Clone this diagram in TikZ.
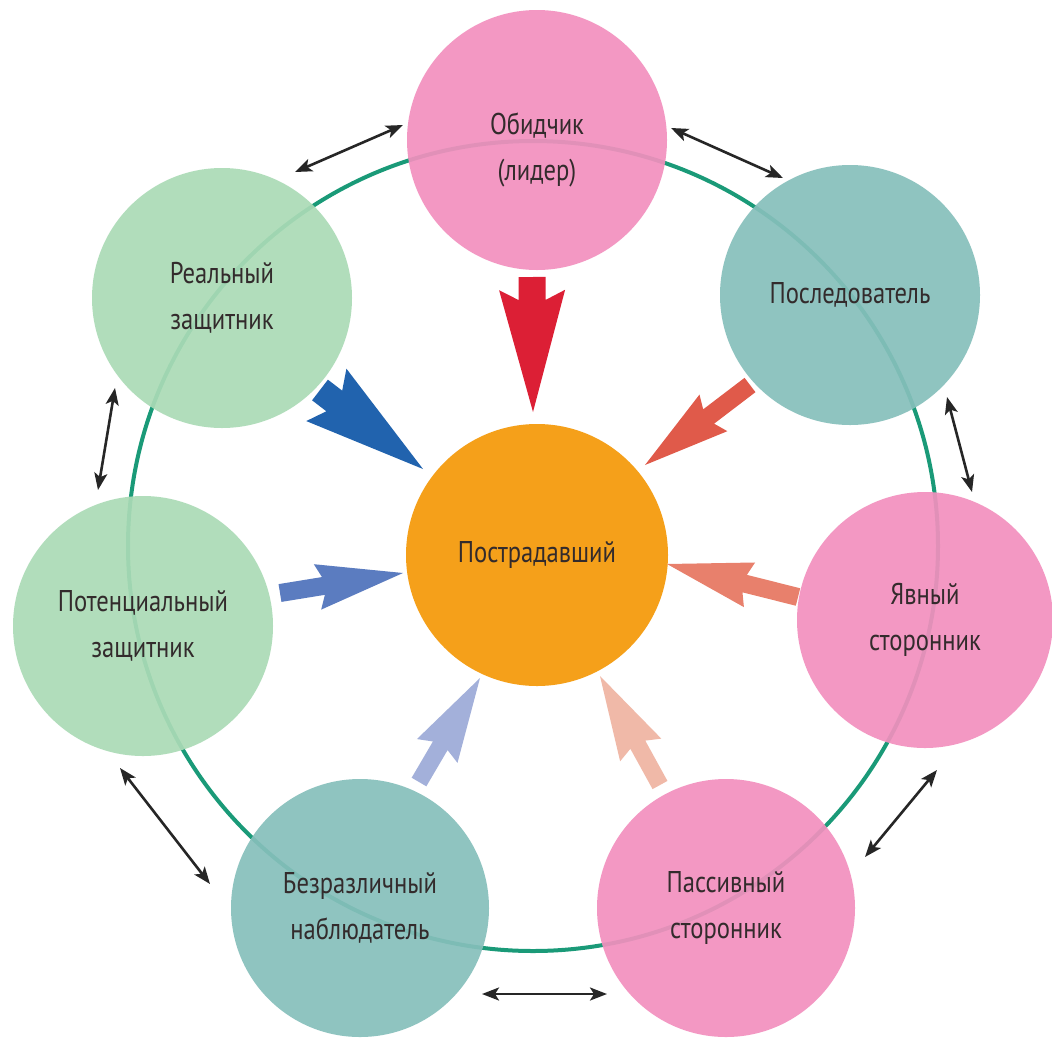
\documentclass[tikz,border=0pt]{standalone}
\usepackage{fontspec}
\setmainfont[FakeStretch=0.82]{PT Sans}
\usetikzlibrary{calc,arrows.meta}
\definecolor{ringc}{HTML}{1A9A78}
\definecolor{pinkc}{HTML}{F290BE}
\definecolor{tealc}{HTML}{86BFBB}
\definecolor{greenc}{HTML}{ABDBB6}
\definecolor{orangec}{HTML}{F5A01A}
\definecolor{txtc}{HTML}{332B2C}
\definecolor{ared}{HTML}{DC1F35}
\definecolor{ablue}{HTML}{2163AE}
\definecolor{aorange}{HTML}{E05A4A}
\definecolor{asalmon}{HTML}{E8806C}
\definecolor{ablue2}{HTML}{5B7CC0}
\definecolor{alblue}{HTML}{A3B0DA}
\definecolor{alpink}{HTML}{F0B9A8}
% #1 colour, #2 tail, #3 tip, #4 half shaft width, #5 half head width, #6 junction distance, #7 barb distance
\newcommand\fatarrow[7]{%
  \coordinate (fa-A) at ($(#2)!#6!(#3)$);
  \coordinate (fa-B) at ($(#2)!#7!(#3)$);
  \fill[#1] ($(#2)!#4!90:(#3)$) -- ($(fa-A)!#4!90:(#3)$) -- ($(fa-B)!#5!90:(#3)$) -- (#3)
    -- ($(fa-B)!#5!-90:(#3)$) -- ($(fa-A)!#4!-90:(#3)$) -- ($(#2)!#4!-90:(#3)$) -- cycle;
}
\begin{document}
\begin{tikzpicture}[x=1pt,y=-1pt,
  role/.style={circle, inner sep=0pt, minimum size=260pt, fill opacity=0.92, text opacity=1,
    text=txtc, align=center, font=\fontsize{30}{46}\selectfont},
  dbl/.style={{Stealth[length=17pt,width=13pt,inset=4pt]}-{Stealth[length=17pt,width=13pt,inset=4pt]}, line width=2.6pt, black!85}]
\useasboundingbox (0,0) rectangle (1052,1037);
\fill[white] (0,0) rectangle (1052,1037);
\draw[ringc, line width=4pt] (533,546) circle[radius=405];

\node[role, fill=pinkc] (obid) at (537,140) {};
\node[text=txtc, align=center, font=\fontsize{30}{46}\selectfont] (obidt) at (537,150) {Обидчик\\(лидер)};
\node[role, fill=tealc] (posl) at (850,295) {Последователь};
\node[role, fill=pinkc, minimum size=256pt] (yavn) at (925,620) {Явный\\сторонник};
\node[role, fill=pinkc, minimum size=258pt] (pass) at (726,908) {Пассивный\\сторонник};
\node[role, fill=tealc, minimum size=258pt] (bezr) at (360,908) {Безразличный\\наблюдатель};
\node[role, fill=greenc] (pot) at (143,626) {Потенциальный\\защитник};
\node[role, fill=greenc] (real) at (222,298) {Реальный\\защитник};
\node[role, fill=orangec, fill opacity=1, minimum size=262pt] (victim) at (537,555) {Пострадавший};

% arrow end points
\coordinate (t1) at (532,277); \coordinate (p1) at (533,412);
\coordinate (t2) at (320,390); \coordinate (p2) at (423,469);
\coordinate (t3) at (750,385); \coordinate (p3) at (645,465);
\coordinate (t4) at (798,597); \coordinate (p4) at (667,564);
\coordinate (t5) at (280,593); \coordinate (p5) at (403,573);
\coordinate (t6) at (419,782); \coordinate (p6) at (480,678);
\coordinate (t7) at (660,785); \coordinate (p7) at (600,676);

\fatarrow{ared}{t1}{p1}{13.5pt}{33pt}{23pt}{13pt}
\fatarrow{ablue}{t2}{p2}{13pt}{33pt}{18pt}{8pt}
\fatarrow{aorange}{t3}{p3}{9pt}{23pt}{52pt}{46pt}
\fatarrow{asalmon}{t4}{p4}{9pt}{23pt}{55pt}{50pt}
\fatarrow{ablue2}{t5}{p5}{9pt}{23pt}{44pt}{38pt}
\fatarrow{alblue}{t6}{p6}{8.5pt}{23.5pt}{42pt}{36pt}
\fatarrow{alpink}{t7}{p7}{8.5pt}{23.5pt}{46pt}{40pt}

% double arrows
\coordinate (d1a) at (295,172); \coordinate (d1b) at (403,125);
\coordinate (d2a) at (671,128); \coordinate (d2b) at (783,178);
\coordinate (d3a) at (947,397); \coordinate (d3b) at (972,492);
\coordinate (d4a) at (937,770); \coordinate (d4b) at (865,857);
\coordinate (d5a) at (482,994); \coordinate (d5b) at (607,994);
\coordinate (d6a) at (120,768); \coordinate (d6b) at (210,884);
\coordinate (d7a) at (115,388); \coordinate (d7b) at (98,490);
\foreach \i in {1,...,7} {\draw[dbl] (d\i a) -- (d\i b);}
\end{tikzpicture}
\end{document}
